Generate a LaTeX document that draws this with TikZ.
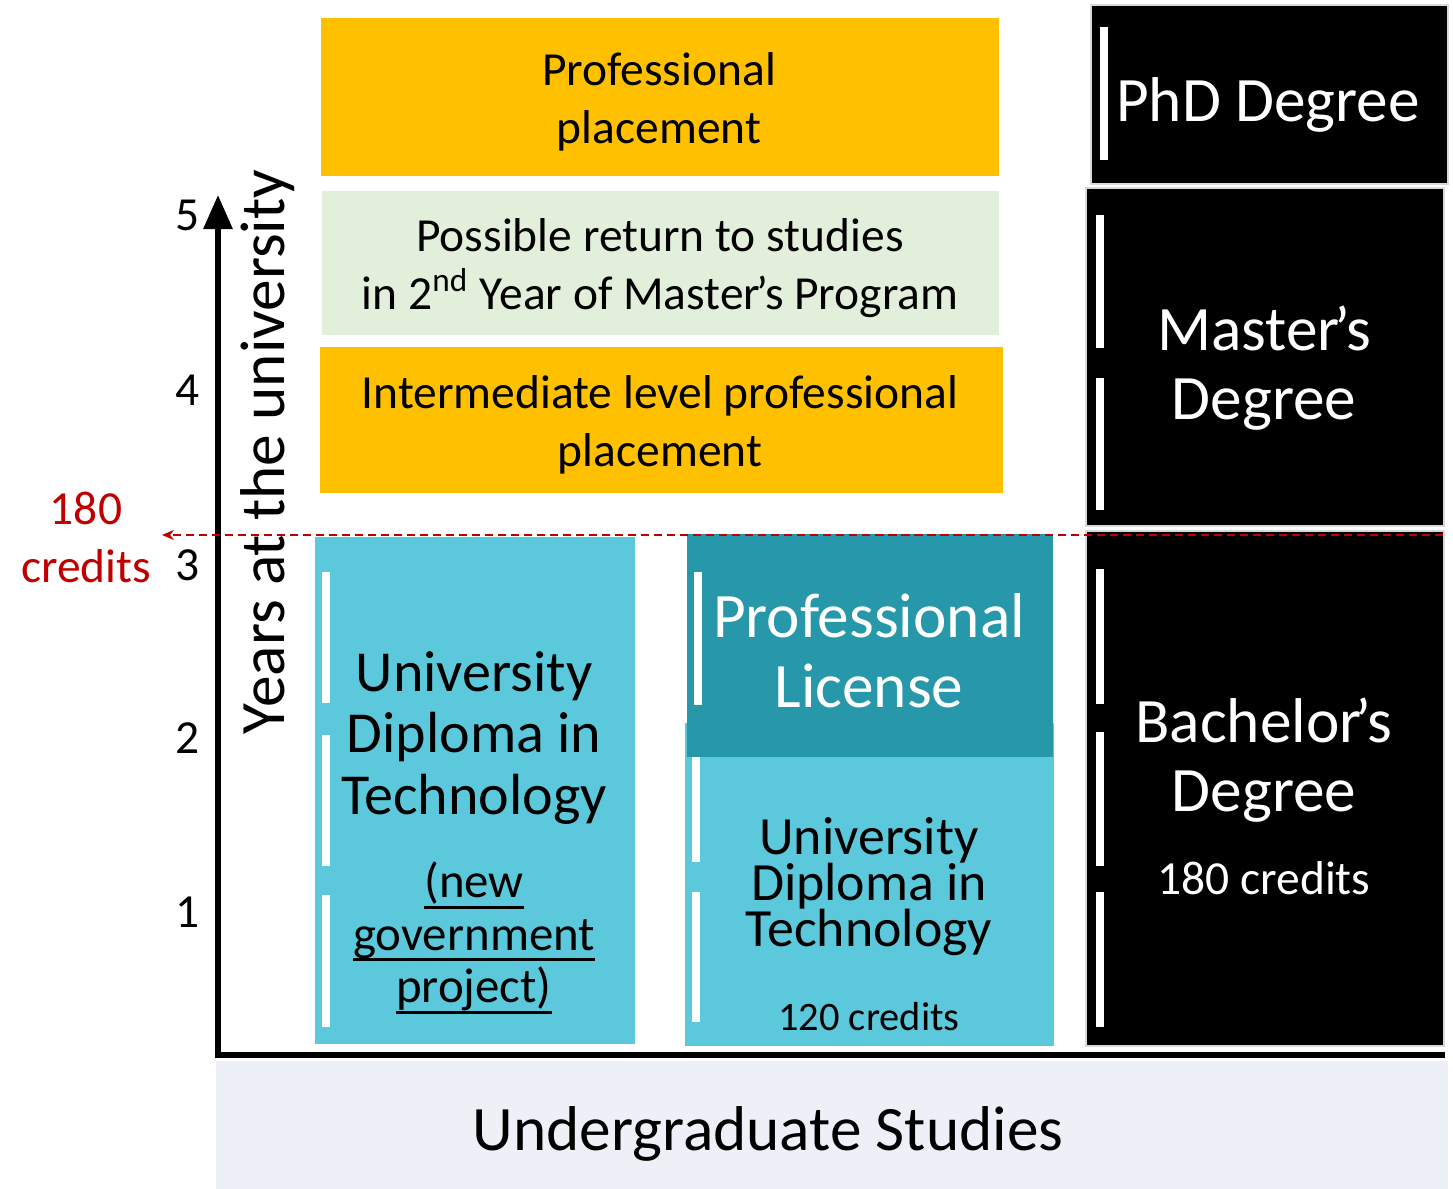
\documentclass[tikz,border=0pt]{standalone}
\usepackage{fontspec}
\setmainfont{Carlito}
\usetikzlibrary{positioning, arrows.meta, calc}

\definecolor{placeorange}{HTML}{FFC000}
\definecolor{returngreen}{HTML}{E2EFDA}
\definecolor{diplomacyan}{HTML}{5BC8DB}
\definecolor{licenseteal}{HTML}{2797AA}
\definecolor{bandgrey}{HTML}{EEF0F8}
\definecolor{creditred}{HTML}{C00000}

% sublinierea groasa si apostroful strans
\newcommand{\govul}[1]{\setbox0\hbox{#1}\rlap{\rule[-3.2pt]{\wd0}{0.9pt}}\box0}
\newcommand{\apos}{\kern-0.09em’}

\begin{document}
\begin{tikzpicture}[
        x=0.01cm, y=-0.01cm,
        % --- stiluri ---
        % 1. Blocurile colorate
        block/.style={
                inner sep=0pt,
                anchor=north west
            },
        % 2. Diplomele (negre)
        degree/.style={
                block,
                fill=black,
                draw=gray!30,
                line width=0.6pt
            },
        % 3. Barele albe verticale
        wbar/.style={
                white,
                line width=2pt
            },
        % 4. Textele
        bigtxt/.style={
                align=center,
                font=\fontsize{18}{19.5}\selectfont
            },
        midtxt/.style={
                align=center,
                font=\fontsize{13.5}{16.5}\selectfont
            },
        yearnum/.style={
                font=\fontsize{13.5}{16}\selectfont
            }
    ]
    \useasboundingbox (0,0) rectangle (1453,1189);

    % 1. Banda de jos
    \node[block, fill=bandgrey, minimum width=12.32cm, minimum height=1.29cm]
        (band) at (215,1060) {};
    \node[bigtxt] (undergrad) at (768,1134) {Undergraduate Studies};

    % 2. Plasamentele (sus)
    \node[block, fill=placeorange, minimum width=6.78cm, minimum height=1.58cm]
        (place) at (320,17) {};
    \node[midtxt] (placetxt) at (659,102) {Professional\\placement};

    \node[block, fill=returngreen, minimum width=6.77cm, minimum height=1.44cm]
        (return) at (321,190) {};
    \node[midtxt] (returntxt) at (660,268)
        {Possible return to studies\\in 2\textsuperscript{nd} Year of Master\apos s Program};

    \node[block, fill=placeorange, minimum width=6.83cm, minimum height=1.46cm]
        (inter) at (319,346) {};
    \node[midtxt] (intertxt) at (660,425)
        {Intermediate level professional\\placement};

    % 3. Diplomele negre (dreapta)
    \node[degree, minimum width=3.57cm, minimum height=1.79cm] (phd) at (1090,4) {};
    \node[bigtxt, white] (phdtxt) at (1268,105) {PhD Degree};
    \draw[wbar] (1104,27) -- (1104,160);

    \node[degree, minimum width=3.58cm, minimum height=3.38cm] (master) at (1085,187) {};
    \node[bigtxt, white] (mastertxt) at (1264,368) {Master\apos s\\Degree};
    \draw[wbar] (1100,215) -- (1100,348);
    \draw[wbar] (1100,378) -- (1100,510);

    \node[degree, minimum width=3.58cm, minimum height=5.15cm] (bachelor) at (1085,530) {};
    \node[bigtxt, white] (bachelortxt) at (1264,760) {Bachelor\apos s\\Degree};
    \node[midtxt, white] (bachelorcr) at (1264,878) {180 credits};
    \draw[wbar] (1100,569) -- (1100,704);
    \draw[wbar] (1100,732) -- (1100,866);
    \draw[wbar] (1100,892) -- (1100,1027);

    % 4. Diploma universitara (stanga)
    \node[block, fill=diplomacyan, minimum width=3.20cm, minimum height=5.07cm]
        (dutleft) at (314,536) {};
    \node[align=center, font=\fontsize{16.5}{17.6}\selectfont] (dutlefttxt) at (474,738)
        {University\\Diploma in\\Technology};
    \node[align=center, font=\fontsize{13.9}{15}\selectfont] (govtxt) at (474,938)
        {\govul{(new}\\\govul{government}\\\govul{project)}};
    \draw[wbar] (326,572) -- (326,703);
    \draw[wbar] (326,735) -- (326,866);
    \draw[wbar] (326,895) -- (326,1027);

    % 5. Licenta profesionala + DUT
    \node[block, fill=diplomacyan, minimum width=3.69cm, minimum height=3.23cm]
        (dutright) at (684,722) {};
    \node[block, fill=licenseteal, minimum width=3.66cm, minimum height=2.23cm]
        (license) at (686,533) {};
    \node[bigtxt, white, font=\fontsize{18}{20}\selectfont] (licensetxt) at (869,651)
        {Professional\\License};
    \node[align=center, font=\fontsize{15.3}{13.1}\selectfont] (dutrighttxt) at (869,887)
        {University\\Diploma in\\Technology};
    \node[font=\fontsize{11.5}{14}\selectfont] (dutrightcr) at (869,1017) {120 credits};
    \draw[wbar] (698,572) -- (698,705);
    \draw[wbar] (696,757) -- (696,862);
    \draw[wbar] (696,892) -- (696,1022);

    % 6. Axele
    \coordinate (origin) at (218,1055);
    \coordinate (ytop) at (218,195);
    \coordinate (xend) at (1445,1055);
    \draw[line width=1.7pt, -{Triangle[length=3.4mm, width=2.8mm]}] (origin) -- (ytop);
    \draw[line width=1.6pt] ($(origin)+(-3,0)$) -- (xend);
    \node[rotate=90, font=\fontsize{18}{20}\selectfont] (yearslbl) at (268,452)
        {Years at the university};

    \node[yearnum] (y5) at (188,215) {5};
    \node[yearnum] (y4) at (188,390) {4};
    \node[yearnum] (y3) at (188,565) {3};
    \node[yearnum] (y2) at (188,738) {2};
    \node[yearnum] (y1) at (188,912) {1};

    % 7. Pragul de 180 credite
    \coordinate (thrright) at (1443,535);
    \coordinate (thrleft) at (162,535);
    \draw[creditred, line width=0.5pt, dash pattern=on 2.3pt off 1.4pt,
        -{Stealth[length=1.2mm, width=1mm]}] (thrright) -- (thrleft);
    \node[midtxt, creditred] (credlbl) at (86,537) {180\\credits};

\end{tikzpicture}
\end{document}
